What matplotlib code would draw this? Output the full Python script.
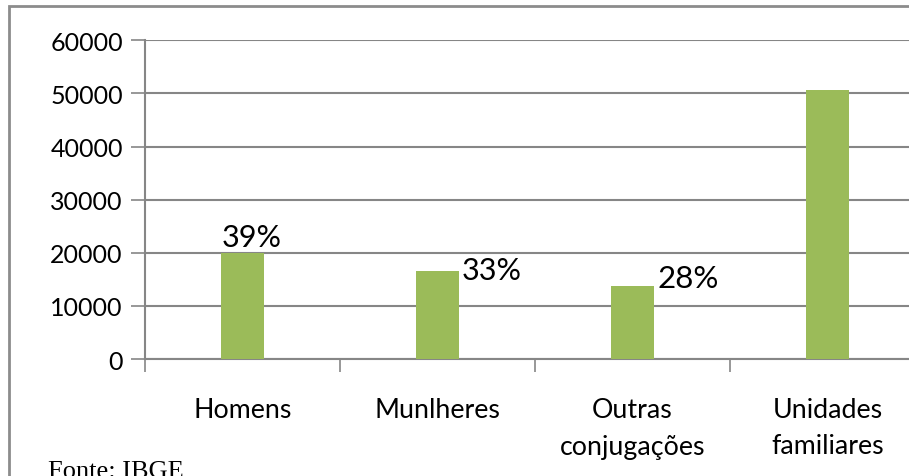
import matplotlib.pyplot as plt
from matplotlib.patches import Rectangle

categorias = ["Homens", "Munlheres", "Outras\nconjugações", "Unidades\nfamiliares"]
valores = [19900, 16650, 13750, 50600]
rotulos = ["39%", "33%", "28%", None]

verde = "#9BBB59"
cinza = "#868686"

fig = plt.figure(figsize=(9.09, 4.77), dpi=100)
ax = fig.add_axes([145 / 909, 1 - 360 / 477, 780 / 909, 318.7 / 477])

x = list(range(len(categorias)))
ax.bar(x, valores, width=0.22, color=verde, zorder=3)

ax.set_xlim(-0.5, len(categorias) - 0.5)
ax.set_ylim(0, 60000)
ax.set_yticks(range(0, 60001, 10000))
ax.set_yticklabels([str(v) for v in range(0, 60001, 10000)], fontsize=18, family="Lato")
ax.yaxis.grid(True, color=cinza, linewidth=1.5, zorder=0)

ax.set_xticks([i - 0.5 for i in range(len(categorias) + 1)], minor=False)
ax.set_xticklabels([])
ax.set_xticks(x, minor=True)
ax.set_xticklabels(categorias, minor=True, fontsize=19.3, family="Lato", linespacing=1.6)
ax.tick_params(axis="x", which="minor", length=0, pad=27)
ax.tick_params(axis="x", which="major", length=9, color=cinza, width=1.2)
ax.tick_params(axis="y", length=10, color=cinza, width=1.2, pad=6)

for s in ["top", "right"]:
    ax.spines[s].set_visible(False)
for s in ["left", "bottom"]:
    ax.spines[s].set_color(cinza)
    ax.spines[s].set_linewidth(1.5)

# rótulos de percentagem (posições manuais como no original)
ax.text(x[0] + 0.045, valores[0] + 500, rotulos[0], ha="center", va="bottom", fontsize=22, family="Lato")
ax.text(x[1] + 0.125, valores[1] + 100, rotulos[1], ha="left", va="center", fontsize=22, family="Lato")
ax.text(x[2] + 0.13, valores[2] + 1500, rotulos[2], ha="left", va="center", fontsize=22.5, family="Lato")

# moldura do gráfico
fig.patches.append(Rectangle((9 / 909, -0.1), 1.2, 1 - 7 / 477 + 0.1, transform=fig.transFigure,
                             fill=False, edgecolor="#8c8c8c", linewidth=2))

# fonte cortada na borda inferior, como no original
fig.text(48 / 909, 1 - 461 / 477, "Fonte: IBGE", family="Liberation Serif", fontsize=19, va="top")

fig.savefig("out.png", dpi=100)
